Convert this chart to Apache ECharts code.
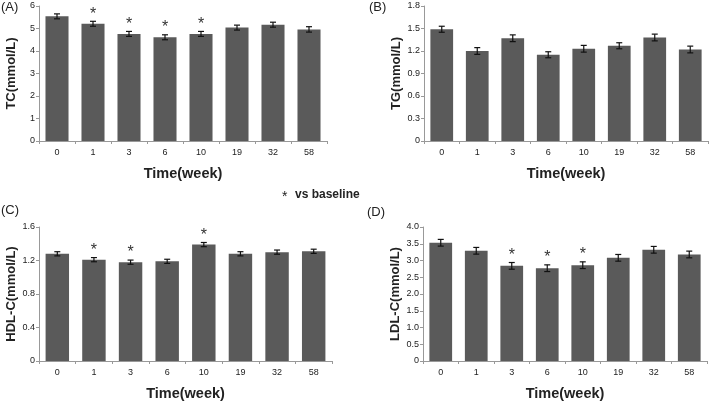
<!DOCTYPE html>
<html>
<head>
<meta charset="utf-8">
<script src="https://cdn.jsdelivr.net/npm/echarts@6/dist/echarts.min.js"></script>
<style>html,body{margin:0;padding:0;background:#fff}#c{width:709px;height:402px}</style>
</head>
<body>
<div id="c"></div>
<script>
var weeks = ['0','1','3','6','10','19','32','58'];
var tcVals = [5.54, 5.21, 4.76, 4.61, 4.76, 5.04, 5.17, 4.96];
var tcErr = [0.11, 0.11, 0.11, 0.11, 0.11, 0.11, 0.11, 0.12];
var tcSig = [0,1,1,1,1,0,0,0];
var tgVals = [1.49, 1.20, 1.37, 1.15, 1.23, 1.27, 1.38, 1.22];
var tgErr = [0.04, 0.045, 0.045, 0.04, 0.045, 0.04, 0.045, 0.045];
var tgSig = [0,0,0,0,0,0,0,0];
var hdlVals = [1.28, 1.21, 1.18, 1.19, 1.39, 1.28, 1.30, 1.31];
var hdlErr = [0.025, 0.025, 0.025, 0.025, 0.025, 0.025, 0.025, 0.025];
var hdlSig = [0,1,1,0,1,0,0,0];
var ldlVals = [3.53, 3.29, 2.84, 2.77, 2.86, 3.08, 3.32, 3.18];
var ldlErr = [0.1, 0.1, 0.1, 0.1, 0.1, 0.1, 0.1, 0.1];
var ldlSig = [0,0,1,1,1,0,0,0];

var panels = [
  {vals: tcVals, err: tcErr, sig: tcSig, name: 'TC(mmol/L)', min: 0, max: 6, interval: 1, fmt: function(v){return String(v);}, grid: {left: 39, top: 6, width: 288, height: 135}},
  {vals: tgVals, err: tgErr, sig: tgSig, name: 'TG(mmol/L)', min: 0, max: 1.8, interval: 0.3, fmt: function(v){return v===0?'0':v.toFixed(1);}, grid: {left: 424, top: 6, width: 284, height: 135}},
  {vals: hdlVals, err: hdlErr, sig: hdlSig, name: 'HDL-C(mmol/L)', min: 0, max: 1.6, interval: 0.4, fmt: function(v){return v===0?'0':v.toFixed(1);}, grid: {left: 39, top: 227, width: 293, height: 135}},
  {vals: ldlVals, err: ldlErr, sig: ldlSig, name: 'LDL-C(mmol/L)', min: 0, max: 4, interval: 0.5, fmt: function(v){return v===0?'0':v.toFixed(1);}, grid: {left: 423, top: 227, width: 284, height: 135}}
];

var FONT = 'Liberation Sans, Arial, sans-serif';
var option = {grid: [], xAxis: [], yAxis: [], series: [], animation: false,
  graphic: [
    {type:'text', left: 1, top: 1, style:{text:'(A)', font:'13px '+FONT, fill:'#222'}},
    {type:'text', left: 369, top: 1, style:{text:'(B)', font:'13px '+FONT, fill:'#222'}},
    {type:'text', left: 1, top: 204, style:{text:'(C)', font:'13px '+FONT, fill:'#222'}},
    {type:'text', left: 367, top: 206, style:{text:'(D)', font:'13px '+FONT, fill:'#222'}},
    {type:'text', left: 282, top: 190, style:{text:'*', font:'14px '+FONT, fill:'#222'}},
    {type:'text', left: 295, top: 189, style:{text:'vs baseline', font:'bold 12px '+FONT, fill:'#222'}}
  ]
};

panels.forEach(function(p, i){
  option.grid.push(p.grid);
  option.xAxis.push({
    type: 'category', gridIndex: i, data: weeks,
    name: 'Time(week)', nameLocation: 'middle', nameGap: 25,
    nameTextStyle: {fontFamily: FONT, fontWeight: 'bold', fontSize: 14.5, color: '#222'},
    axisLine: {lineStyle: {color: '#999'}},
    axisTick: {show: true, length: 3, lineStyle: {color: '#999'}},
    axisLabel: {fontFamily: FONT, fontSize: 9, color: '#222', margin: 7}
  });
  option.yAxis.push({
    type: 'value', gridIndex: i, min: p.min, max: p.max, interval: p.interval,
    name: p.name, nameLocation: 'middle', nameRotate: 90, nameGap: 21,
    nameTextStyle: {fontFamily: FONT, fontWeight: 'bold', fontSize: 13, color: '#222'},
    axisLine: {show: true, lineStyle: {color: '#999'}},
    axisTick: {show: true, length: 3, lineStyle: {color: '#999'}},
    splitLine: {show: false},
    axisLabel: {fontFamily: FONT, fontSize: 9, color: '#222', margin: 4, formatter: p.fmt}
  });
  option.series.push({
    type: 'bar', xAxisIndex: i, yAxisIndex: i, data: p.vals, barWidth: '64%',
    itemStyle: {color: '#5a5a5a'}
  });
  option.series.push({
    type: 'custom', xAxisIndex: i, yAxisIndex: i, z: 5,
    data: p.vals.map(function(v, k){ return [k, v - p.err[k], v + p.err[k], p.sig[k]]; }),
    renderItem: function(params, api){
      var x = api.value(0);
      var lo = api.coord([x, api.value(1)]);
      var hi = api.coord([x, api.value(2)]);
      var w = 3;
      var children = [
        {type:'line', shape:{x1:lo[0], y1:lo[1], x2:hi[0], y2:hi[1]}, style:{stroke:'#111', lineWidth:1.2}},
        {type:'line', shape:{x1:lo[0]-w, y1:lo[1], x2:lo[0]+w, y2:lo[1]}, style:{stroke:'#111', lineWidth:1.2}},
        {type:'line', shape:{x1:hi[0]-w, y1:hi[1], x2:hi[0]+w, y2:hi[1]}, style:{stroke:'#111', lineWidth:1.2}}
      ];
      if (api.value(3)) {
        children.push({type:'text', x: hi[0], y: hi[1] + 1, style:{text:'*', font:'16px '+FONT, fill:'#333', align:'center', verticalAlign:'bottom'}});
      }
      return {type:'group', children: children};
    }
  });
});

var chart = echarts.init(document.getElementById('c'), null, {renderer: 'canvas'});
chart.setOption(option);
</script>
</body>
</html>
